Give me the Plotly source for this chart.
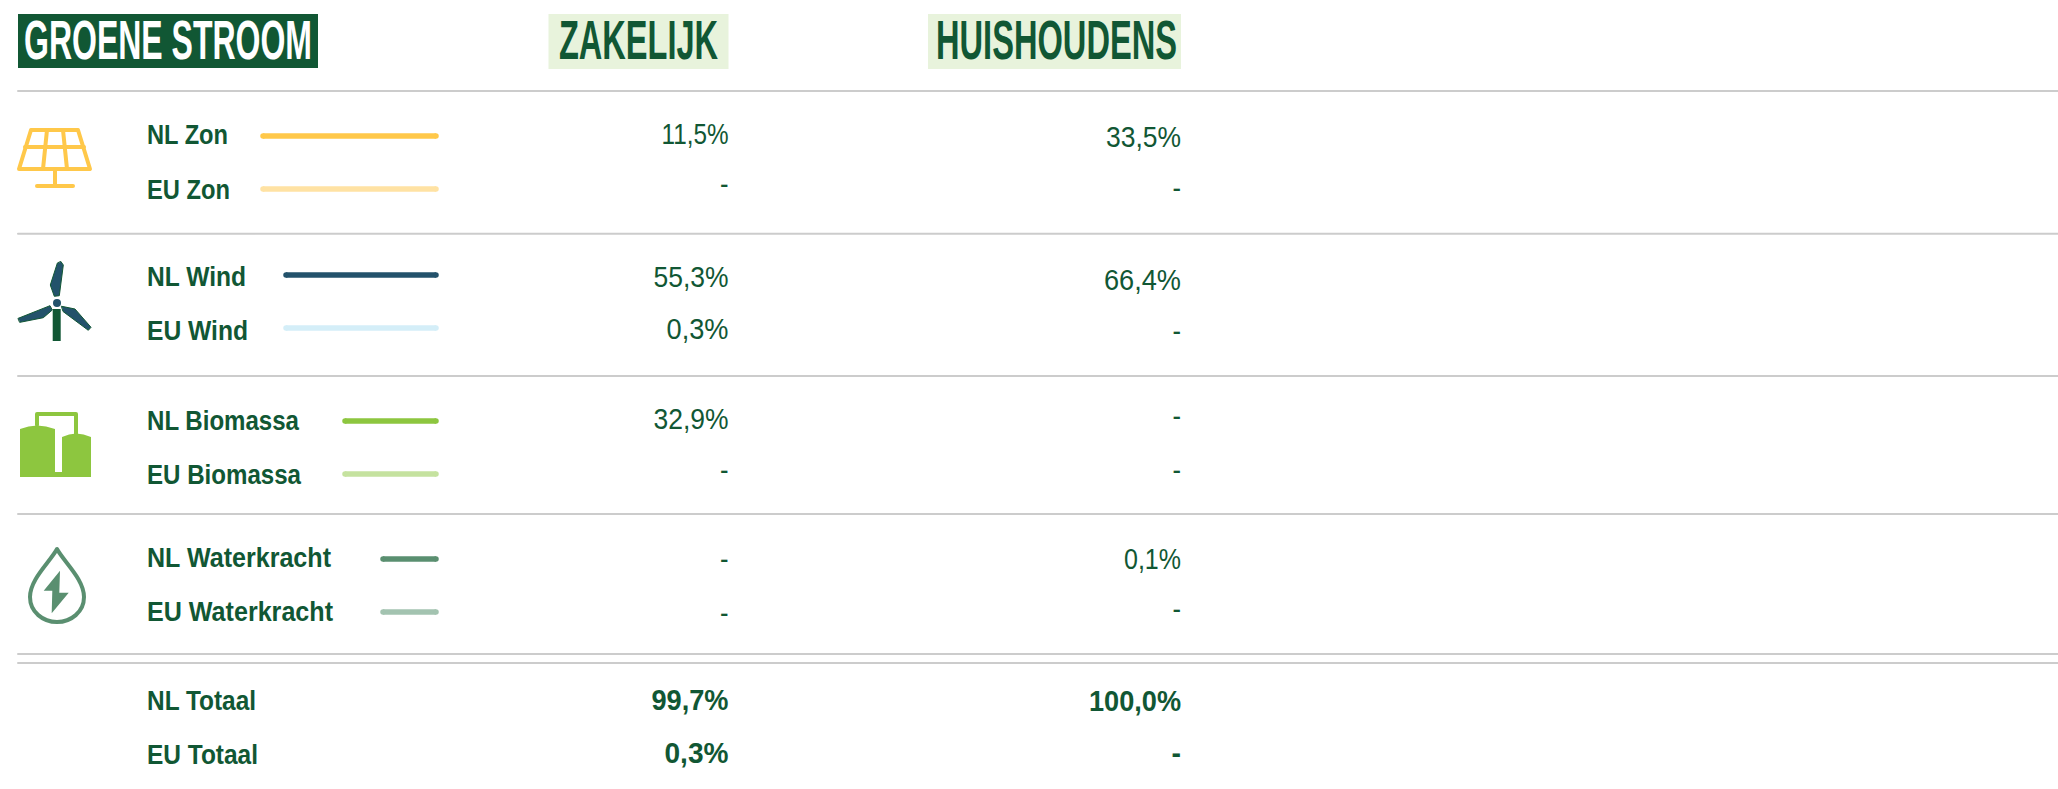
import json
import plotly.graph_objects as go

GREEN = "#115734"
FONT = "Liberation Sans"

title = "GROENE STROOM"
headers = ["ZAKELIJK", "HUISHOUDENS"]
labels = ["NL Zon", "EU Zon", "NL Wind", "EU Wind", "NL Biomassa", "EU Biomassa",
          "NL Waterkracht", "EU Waterkracht", "NL Totaal", "EU Totaal"]
zakelijk = ["11,5%", "-", "55,3%", "0,3%", "32,9%", "-", "-", "-", "99,7%", "0,3%"]
huishoudens = ["33,5%", "-", "66,4%", "-", "-", "-", "0,1%", "-", "100,0%", "-"]

label_y = [134, 189, 276, 330, 420, 474, 557, 611, 700, 754]
zak_y = [134, 184, 277, 329, 419, 470, 559, 613, 700, 753]
hui_y = [137, 188, 280, 331, 416, 470, 559, 609, 701, 753]

key_names = labels[:8]
key_colors = ["#FFC84A", "#FFE2A3", "#23526B", "#D4EEF8", "#8DC63F", "#C5E29F", "#5A8F70", "#A3C3B0"]
key_start = [263, 263, 286, 286, 345, 345, 383, 383]
key_end = [436] * 8
key_y = [136, 189, 275, 328, 421, 474, 559, 612]

rule_y = [91, 233.7, 376, 514, 654, 663]

# Rendered text widths
title_widths = {"GROENE STROOM": 288}
header_widths = {"ZAKELIJK": 159, "HUISHOUDENS": 241}
label_widths = {"NL Zon": 81, "EU Zon": 83, "NL Wind": 99, "EU Wind": 101, "NL Biomassa": 152,
                "EU Biomassa": 154, "NL Waterkracht": 184, "EU Waterkracht": 186,
                "NL Totaal": 109, "EU Totaal": 111}
value_widths = {"11,5%": 67, "33,5%": 75, "55,3%": 75, "66,4%": 77, "0,3%": 62, "32,9%": 75,
                "0,1%": 57, "-": 8.5}
total_widths = {"99,7%": 77, "100,0%": 92, "0,3%": 64, "-": 9.5}


def poly(points, ox=0, oy=0):
    return "M" + " L".join(f"{x/3+ox:.1f},{y/3+oy:.1f}" for x, y in points) + " Z"


shapes = []
for y in rule_y:
    shapes.append(dict(type="line", x0=18, x1=2058, y0=y, y1=y, line=dict(color="#CCCCCC", width=2), layer="below"))
shapes.append(dict(type="rect", x0=18, x1=318, y0=14, y1=68, fillcolor=GREEN, line_width=0, layer="below"))
shapes.append(dict(type="rect", x0=548.5, x1=728.5, y0=14, y1=69, fillcolor="#E8F3DC", line_width=0, layer="below"))
shapes.append(dict(type="rect", x0=928, x1=1181, y0=14, y1=69, fillcolor="#E8F3DC", line_width=0, layer="below"))

# Sun icon
SUN = "#FFC84A"
sun_paths = [
    "M31,130 L78,130 L90,169 L19,169 Z",
    "M25,147 L84,147",
    "M47,130 L43,169",
    "M63,130 L67,169",
    "M55,169 L55,186",
    "M37,186 L73,186",
]
for p in sun_paths:
    shapes.append(dict(type="path", path=p, line=dict(color=SUN, width=4)))

# Wind icon
WIND = "#23526B"
for pts in (
    [(183, 80), (190, 90), (178, 182), (163, 184), (151, 150), (172, 85)],
    [(55, 250), (150, 212), (157, 225), (130, 248), (60, 262)],
    [(185, 214), (225, 222), (273, 277), (265, 286), (190, 230)],
):
    shapes.append(dict(type="path", path=poly(pts, 0, 235), fillcolor=WIND, line=dict(color=GREEN, width=1)))
shapes.append(dict(type="rect", x0=52.7, x1=60.7, y0=309, y1=341, fillcolor=GREEN, line_width=0))
shapes.append(dict(type="circle", x0=53, x1=61, y0=299, y1=307, fillcolor=WIND, line_width=0))

# Biomass icon
BIO = "#8DC63F"
shapes.append(dict(type="path",
                   path="M20,477 L20,429 Q37,422 55,429 L55,472 L62,472 L62,437 Q76,430 91,437 L91,477 Z",
                   fillcolor=BIO, line_width=0))
shapes.append(dict(type="path", path="M37,425 L37,414 L76,414 L76,434", line=dict(color=BIO, width=4)))

# Water icon
WATER = "#5A8F70"
shapes.append(dict(type="path",
                   path="M57,549 C50,562 30,579 30,597 C30,612 43,622 57,622 C71,622 84,612 84,597 C84,579 64,562 57,549 Z",
                   line=dict(color=WATER, width=4)))
shapes.append(dict(type="path", path=poly(
    [(180, 212), (131, 272), (157, 272), (155, 340), (206, 278), (178, 278)], 0, 500),
    fillcolor=WATER, line_width=0))

fig = go.Figure()

# Trace 0: title
fig.add_trace(go.Scatter(x=[24], y=[45], mode="text", text=[title], textposition="middle right",
                         textfont=dict(family=FONT, size=56, color="white", weight="bold")))
# Trace 1: column headers
fig.add_trace(go.Scatter(x=[559, 936], y=[45, 45], mode="text", text=headers, textposition="middle right",
                         textfont=dict(family=FONT, size=56, color=GREEN, weight="bold")))
# Trace 2: row labels
fig.add_trace(go.Scatter(x=[147] * len(labels), y=[v + 3 for v in label_y], mode="text", text=labels,
                         textposition="middle right",
                         textfont=dict(family=FONT, size=28, color=GREEN, weight="bold")))
# Traces 3-4: values, regular rows and bold totals
fig.add_trace(go.Scatter(x=[728.5] * 8 + [1181] * 8, y=[v + 3 for v in zak_y[:8] + hui_y[:8]], mode="text",
                         text=zakelijk[:8] + huishoudens[:8], textposition="middle left",
                         textfont=dict(family=FONT, size=29, color=GREEN)))
fig.add_trace(go.Scatter(x=[728.5] * 2 + [1181] * 2, y=[v + 3 for v in zak_y[8:] + hui_y[8:]], mode="text",
                         text=zakelijk[8:] + huishoudens[8:], textposition="middle left",
                         textfont=dict(family=FONT, size=29, color=GREEN, weight="bold")))
# Key lines
for name, c, x0, x1, y in zip(key_names, key_colors, key_start, key_end, key_y):
    fig.add_trace(go.Scatter(x=[x0, x1], y=[y, y], mode="lines+markers", name=name,
                             line=dict(color=c, width=5.5), marker=dict(color=c, size=5.5)))

fig.update_layout(
    width=2058, height=789, margin=dict(l=0, r=0, t=0, b=0),
    paper_bgcolor="white", plot_bgcolor="white", showlegend=False, shapes=shapes,
    xaxis=dict(range=[0, 2058], visible=False, fixedrange=True),
    yaxis=dict(range=[789, 0], visible=False, fixedrange=True),
)

widths = [title_widths, header_widths, label_widths, value_widths, total_widths]
post = """
document.body.style.margin='0';
var widths=%s;
var gd=document.getElementsByClassName('plotly-graph-div')[0];
var traces=gd.querySelectorAll('.scatterlayer .trace');
widths.forEach(function(map,i){
  traces[i].querySelectorAll('.textpoint text').forEach(function(t){
    t.setAttribute('textLength',map[t.textContent]);
    t.setAttribute('lengthAdjust','spacingAndGlyphs');
  });
});
gd.querySelectorAll('.shapelayer path').forEach(function(p){
  p.style.strokeLinejoin='round';p.style.strokeLinecap='round';
});
""" % json.dumps(widths)

fig.write_html("out.html", post_script=post, config={"displayModeBar": False})
